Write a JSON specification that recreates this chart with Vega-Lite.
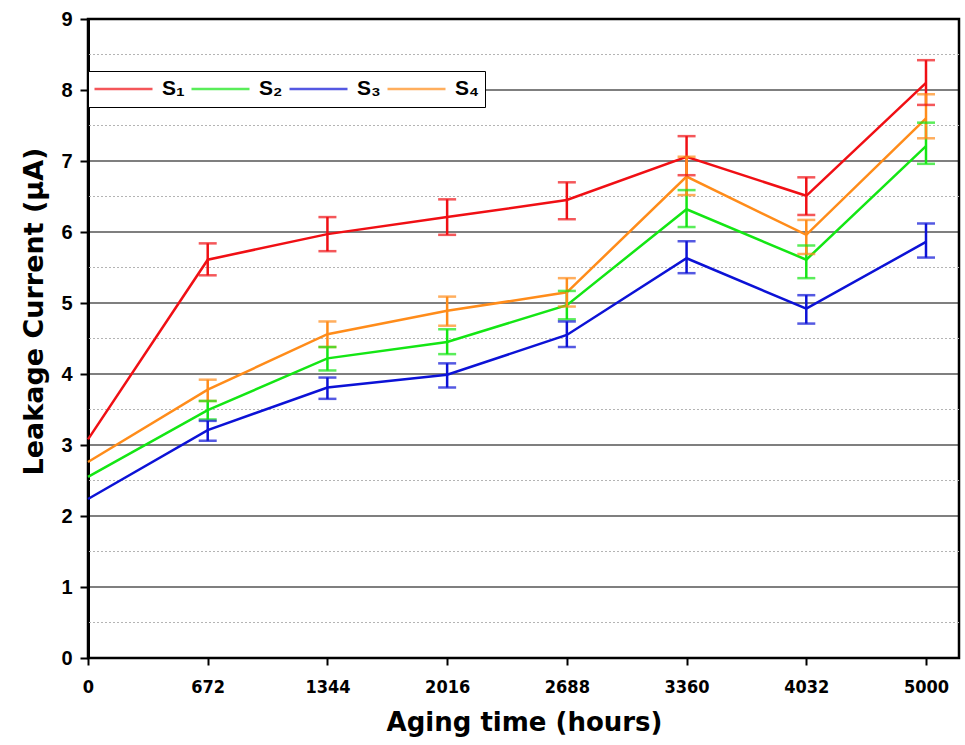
{
  "$schema": "https://vega.github.io/schema/vega-lite/v6.json",
  "width": 871,
  "height": 639,
  "autosize": "none",
  "padding": {"left": 88, "top": 19, "right": 6, "bottom": 87},
  "background": "white",
  "config": {
    "view": {"stroke": "black", "strokeWidth": 2.5},
    "font": "Liberation Sans"
  },
  "datasets": {
    "grid": [
      {"level": 1, "kind": "major"}, {"level": 2, "kind": "major"}, {"level": 3, "kind": "major"},
      {"level": 4, "kind": "major"}, {"level": 5, "kind": "major"}, {"level": 6, "kind": "major"},
      {"level": 7, "kind": "major"}, {"level": 8, "kind": "major"},
      {"level": 0.5, "kind": "minor"}, {"level": 1.5, "kind": "minor"}, {"level": 2.5, "kind": "minor"},
      {"level": 3.5, "kind": "minor"}, {"level": 4.5, "kind": "minor"}, {"level": 5.5, "kind": "minor"},
      {"level": 6.5, "kind": "minor"}, {"level": 7.5, "kind": "minor"}, {"level": 8.5, "kind": "minor"}
    ],
    "leak": [
      {"series": "S₁", "hours": "0", "value": 3.08, "lo": null, "hi": null},
      {"series": "S₁", "hours": "672", "value": 5.61, "lo": 5.39, "hi": 5.84},
      {"series": "S₁", "hours": "1344", "value": 5.97, "lo": 5.73, "hi": 6.21},
      {"series": "S₁", "hours": "2016", "value": 6.21, "lo": 5.96, "hi": 6.46},
      {"series": "S₁", "hours": "2688", "value": 6.45, "lo": 6.18, "hi": 6.70},
      {"series": "S₁", "hours": "3360", "value": 7.06, "lo": 6.80, "hi": 7.35},
      {"series": "S₁", "hours": "4032", "value": 6.51, "lo": 6.24, "hi": 6.77},
      {"series": "S₁", "hours": "5000", "value": 8.10, "lo": 7.79, "hi": 8.42},
      {"series": "S₂", "hours": "0", "value": 2.55, "lo": null, "hi": null},
      {"series": "S₂", "hours": "672", "value": 3.49, "lo": 3.36, "hi": 3.62},
      {"series": "S₂", "hours": "1344", "value": 4.22, "lo": 4.05, "hi": 4.38},
      {"series": "S₂", "hours": "2016", "value": 4.45, "lo": 4.28, "hi": 4.63},
      {"series": "S₂", "hours": "2688", "value": 4.97, "lo": 4.77, "hi": 5.17},
      {"series": "S₂", "hours": "3360", "value": 6.32, "lo": 6.07, "hi": 6.59},
      {"series": "S₂", "hours": "4032", "value": 5.61, "lo": 5.35, "hi": 5.81},
      {"series": "S₂", "hours": "5000", "value": 7.21, "lo": 6.96, "hi": 7.54},
      {"series": "S₃", "hours": "0", "value": 2.24, "lo": null, "hi": null},
      {"series": "S₃", "hours": "672", "value": 3.21, "lo": 3.06, "hi": 3.34},
      {"series": "S₃", "hours": "1344", "value": 3.81, "lo": 3.65, "hi": 3.95},
      {"series": "S₃", "hours": "2016", "value": 3.99, "lo": 3.81, "hi": 4.15},
      {"series": "S₃", "hours": "2688", "value": 4.55, "lo": 4.38, "hi": 4.74},
      {"series": "S₃", "hours": "3360", "value": 5.63, "lo": 5.42, "hi": 5.87},
      {"series": "S₃", "hours": "4032", "value": 4.92, "lo": 4.71, "hi": 5.11},
      {"series": "S₃", "hours": "5000", "value": 5.86, "lo": 5.64, "hi": 6.12},
      {"series": "S₄", "hours": "0", "value": 2.76, "lo": null, "hi": null},
      {"series": "S₄", "hours": "672", "value": 3.78, "lo": 3.62, "hi": 3.92},
      {"series": "S₄", "hours": "1344", "value": 4.56, "lo": 4.38, "hi": 4.74},
      {"series": "S₄", "hours": "2016", "value": 4.89, "lo": 4.68, "hi": 5.09},
      {"series": "S₄", "hours": "2688", "value": 5.15, "lo": 4.95, "hi": 5.35},
      {"series": "S₄", "hours": "3360", "value": 6.78, "lo": 6.52, "hi": 7.06},
      {"series": "S₄", "hours": "4032", "value": 5.96, "lo": 5.69, "hi": 6.17},
      {"series": "S₄", "hours": "5000", "value": 7.60, "lo": 7.32, "hi": 7.94}
    ]
  },
  "layer": [
    {
      "data": {"name": "grid"},
      "transform": [{"filter": "datum.kind === 'minor'"}],
      "mark": {"type": "rule", "color": "#b4b4b4", "strokeWidth": 1, "strokeDash": [2, 2]},
      "encoding": {
        "y": {
          "field": "level",
          "type": "quantitative",
          "scale": {"domain": [0, 9], "nice": false},
          "axis": {
            "title": "Leakage Current (μA)",
            "values": [0, 1, 2, 3, 4, 5, 6, 7, 8, 9],
            "format": "d",
            "grid": false,
            "domain": true,
            "domainColor": "black",
            "domainWidth": 3,
            "tickColor": "black",
            "tickWidth": 2,
            "tickSize": 8,
            "labelFont": "Liberation Sans",
            "labelFontSize": 20,
            "labelFontWeight": "bold",
            "labelColor": "black",
            "labelPadding": 8,
            "titleFont": "DejaVu Sans",
            "titleFontSize": 27,
            "titleFontWeight": "bold",
            "titleColor": "black",
            "titlePadding": 12,
            "titleY": 292
          }
        }
      }
    },
    {
      "data": {"name": "grid"},
      "transform": [{"filter": "datum.kind === 'major'"}],
      "mark": {"type": "rule", "color": "#000000", "strokeWidth": 1.2},
      "encoding": {"y": {"field": "level", "type": "quantitative"}}
    },
    {
      "data": {"name": "leak"},
      "mark": {"type": "line", "strokeWidth": 2.5},
      "encoding": {
        "x": {
          "field": "hours",
          "type": "ordinal",
          "scale": {"type": "point", "domain": ["0", "672", "1344", "2016", "2688", "3360", "4032", "5000"], "range": [0, 838], "padding": 0},
          "axis": {
            "title": "Aging time (hours)",
            "labelAngle": 0,
            "domain": false,
            "grid": false,
            "ticks": true,
            "tickColor": "black",
            "tickWidth": 2,
            "tickSize": 7,
            "labelFont": "DejaVu Sans Condensed, Liberation Sans, sans-serif",
            "labelFontSize": 18,
            "labelFontWeight": "bold",
            "labelColor": "black",
            "labelPadding": 13,
            "titleFont": "DejaVu Sans",
            "titleFontSize": 26,
            "titleFontWeight": "bold",
            "titleColor": "black",
            "titlePadding": 13,
            "titleX": 436
          }
        },
        "y": {"field": "value", "type": "quantitative"},
        "color": {
          "field": "series",
          "type": "nominal",
          "scale": {"domain": ["S₁", "S₂", "S₃", "S₄"], "range": ["#f00f14", "#14e614", "#0c12d6", "#ff8c1a"]},
          "legend": {
            "title": null,
            "orient": "none",
            "legendX": 0,
            "legendY": 52,
            "direction": "horizontal",
            "symbolType": "stroke",
            "symbolSize": 3364,
            "symbolStrokeWidth": 2.5,
            "clipHeight": 26,
            "labelFontSize": 21,
            "labelFontWeight": "bold",
            "labelColor": "black",
            "labelOffset": 8,
            "columnPadding": 5,
            "padding": 5,
            "strokeColor": "black",
            "fillColor": "white",
            "labelLimit": 60
          }
        }
      }
    },
    {
      "data": {"name": "leak"},
      "mark": {"type": "rule", "strokeWidth": 2.5},
      "encoding": {
        "x": {"field": "hours", "type": "ordinal"},
        "y": {"field": "lo", "type": "quantitative"},
        "y2": {"field": "hi"},
        "color": {"field": "series", "type": "nominal"}
      }
    },
    {
      "data": {"name": "leak"},
      "mark": {"type": "tick", "thickness": 2.5, "size": 18},
      "encoding": {
        "x": {"field": "hours", "type": "ordinal"},
        "y": {"field": "lo", "type": "quantitative"},
        "color": {"field": "series", "type": "nominal"}
      }
    },
    {
      "data": {"name": "leak"},
      "mark": {"type": "tick", "thickness": 2.5, "size": 18},
      "encoding": {
        "x": {"field": "hours", "type": "ordinal"},
        "y": {"field": "hi", "type": "quantitative"},
        "color": {"field": "series", "type": "nominal"}
      }
    }
  ]
}
